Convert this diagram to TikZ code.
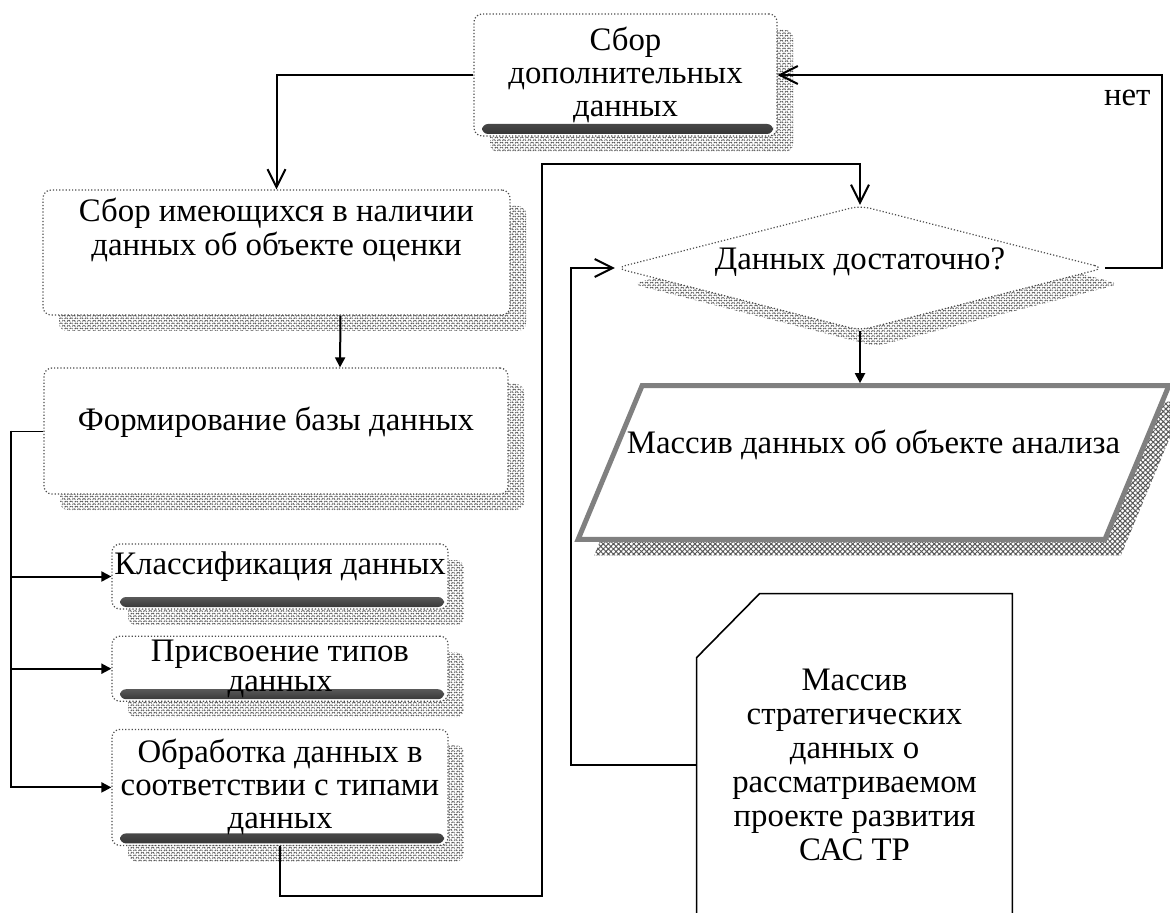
\documentclass[tikz,border=0pt]{standalone}
\usepackage{fontspec}
\setmainfont{Liberation Serif}
\usetikzlibrary{positioning,shapes.geometric,arrows.meta,shadows,patterns.meta,backgrounds}

\begin{document}
\begin{tikzpicture}[x=0.5pt, y=-0.5pt, font=\fontsize{16.4}{17}\selectfont,
        hatched/.style={general shadow={shadow xshift=8pt, shadow yshift=-8pt, draw=none,
            pattern={Hatch[angle=45,distance=1.8pt,line width=.5pt]}, pattern color=black!65}},
        box/.style={draw=black!70, densely dotted, line width=.6pt, fill=white, rounded corners=4pt,
            align=flush center, inner sep=1pt, hatched},
        band/.style={path picture={\shade[top color=white, bottom color=black!80, rounded corners=3pt]
            ([xshift=4pt,yshift=1pt]path picture bounding box.south west) rectangle
            ([xshift=-2pt,yshift=6pt]path picture bounding box.south east);}},
        lift/.style={text depth=#1},
        openarrow/.style={line width=1pt, -{Straight Barb[length=9pt,width=9pt]}},
        fillarrow/.style={line width=1pt, -{Triangle[length=5pt,width=5pt]}}]

    \useasboundingbox (0,0) rectangle (1170,913);

    \node[box, band, minimum width=151.5pt, minimum height=61pt, text width=148pt, font=\fontsize{16.4}{16.5}\selectfont] (extra) at (625.5,75) {Сбор\\дополнительных\\данных};

    \node[box, minimum width=233.5pt, minimum height=62.5pt, text width=230pt, lift=43pt] (collect) at (276.5,252.5) {Сбор имеющихся в наличии\\данных об объекте оценки};

    \node[box, minimum width=232pt, minimum height=63pt, text width=229pt, lift=12pt] (database) at (276,431) {Формирование базы данных};

    \node[box, band, minimum width=168pt, minimum height=32.5pt, text width=166pt, lift=13pt] (classify) at (280,576.5) {Классификация данных};
    \node[box, band, minimum width=168pt, minimum height=32.5pt, text width=166pt, inner sep=0pt, font=\fontsize{16.4}{15}\selectfont, below=13pt of classify] (types) {Присвоение типов\\данных};
    \node[box, band, minimum width=168pt, minimum height=58pt, text width=166pt, font=\fontsize{16.4}{16.5}\selectfont, lift=37pt, below=13.5pt of types] (process) {Обработка данных в\\соответствии с типами\\данных};

    \node[box, diamond, aspect=4, rounded corners=5pt, minimum width=244.5pt, minimum height=62.5pt, lift=9pt] (enough) at (860,268) {Данных достаточно?};

    \node[minimum width=295pt, minimum height=76.5pt, lift=21pt] (result) at (873.5,462.5) {Массив данных об объекте анализа};
    \begin{scope}[on background layer]
        \draw[hatched, draw=gray, line width=2.5pt, fill=white] ([xshift=32pt]result.north west) -- (result.north east)
            -- ([xshift=-32pt]result.south east) -- (result.south west) -- cycle;
    \end{scope}

    \node[minimum width=157.5pt, minimum height=170.5pt, text width=150pt, align=flush center] (strategic) at (854.5,764.5) {Массив\\стратегических\\данных о\\рассматриваемом\\проекте развития\\САС ТР};
    \draw[line width=.8pt] ([yshift=-32pt]strategic.north west) -- ([xshift=31.5pt]strategic.north west)
        -- (strategic.north east) -- (strategic.south east) -- (strategic.south west) -- cycle;

    \draw[openarrow] (extra.west) -| (collect.north);
    \draw[openarrow] (enough.east) -- ++(57,0) |- node[pos=.44, left=2pt] {нет} (extra.east);
    \draw[fillarrow] ([xshift=32pt]collect.south) -- ([xshift=32pt]database.north);
    \draw (database.west) -- ++(-32,0) coordinate (bus);
    \draw[fillarrow] (bus) |- (classify.west);
    \draw[fillarrow] (bus) |- (types.west);
    \draw[fillarrow] (bus) |- (process.west);
    \draw[openarrow] (process.south) -- ++(0,50) -| ++(262,-732) -| (enough.north);
    \draw[openarrow] (strategic.west) -- ++(-126,0) |- (enough.west);
    \draw[fillarrow] (enough.south) -- ([yshift=1.2pt]enough.south |- result.north);

\end{tikzpicture}
\end{document}
